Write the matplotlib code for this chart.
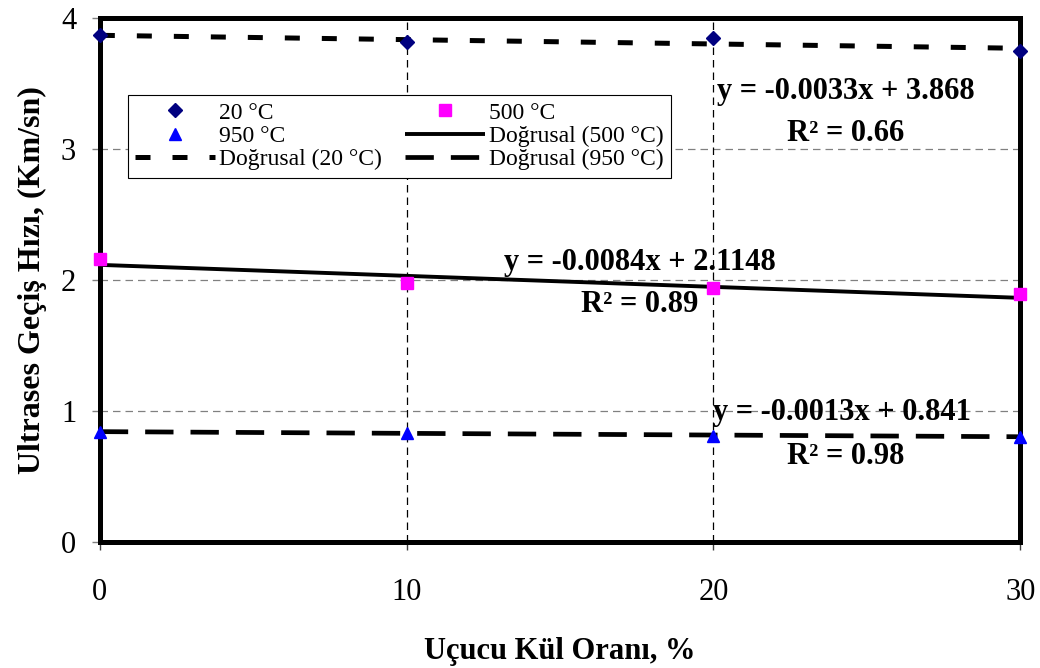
import matplotlib
matplotlib.use("Agg")
import matplotlib.pyplot as plt

plt.rcParams["font.family"] = ["Liberation Serif", "DejaVu Serif"]

# Fly ash ratio (%) and ultrasonic pulse velocity (km/s) per temperature
kul_orani = [0, 10, 20, 30]
hiz_20 = [3.87, 3.82, 3.85, 3.75]
hiz_500 = [2.16, 1.98, 1.94, 1.89]
hiz_950 = [0.84, 0.83, 0.81, 0.80]

# Linear trend coefficients (slope, intercept) and R^2 values
egim = {"20": -0.0033, "500": -0.0084, "950": -0.0013}
kesim = {"20": 3.868, "500": 2.1148, "950": 0.841}
r2 = {"20": "0.66", "500": "0.89", "950": "0.98"}

fig = plt.figure(figsize=(10.4, 6.68), dpi=100)
ax = fig.add_axes([0.096, 0.189, 0.885, 0.784])

x0, x1 = kul_orani[0], kul_orani[-1]

def trend(key):
    return [egim[key] * x0 + kesim[key], egim[key] * x1 + kesim[key]]

# trend lines
t20, = ax.plot([x0, x1], trend("20"), color="black", lw=3.6,
               dashes=(3.0, 4.4), zorder=3)
t500, = ax.plot([x0, x1], trend("500"), color="black", lw=2.8,
                solid_capstyle="butt", zorder=3)
t950, = ax.plot([x0, x1], trend("950"), color="black", lw=3.4,
                dashes=(6.0, 3.6), zorder=3)

# measured points
p20, = ax.plot(kul_orani, hiz_20, ls="none", marker="D", ms=7,
               color="#000080", zorder=4, clip_on=False)
p500, = ax.plot(kul_orani, hiz_500, ls="none", marker="s", ms=8,
                color="#FF00FF", zorder=4, clip_on=False)
p950, = ax.plot(kul_orani, hiz_950, ls="none", marker="^", ms=9,
                color="#0000FF", zorder=4, clip_on=False)

ax.set_xlim(0, 30)
ax.set_ylim(0, 4)
ax.set_xticks([0, 10, 20, 30])
ax.set_yticks([0, 1, 2, 3, 4])

# grid: gray dashes horizontal, black dashes vertical
for yv in [1, 2, 3]:
    ax.axhline(yv, color="#808080", lw=0.9, dashes=(6, 4), zorder=1)
for xv in [10, 20]:
    ax.axvline(xv, color="black", lw=0.9, dashes=(6, 4), zorder=1)

for s in ax.spines.values():
    s.set_linewidth(3.6)
    s.set_color("black")

ax.tick_params(axis="y", direction="out", length=6, width=1,
               color="#808080", labelsize=22, pad=11)
ax.tick_params(axis="x", direction="out", length=6, width=1,
               color="#404040", labelsize=22, pad=20)

ax.set_xlabel("Uçucu Kül Oranı, %", fontsize=22, fontweight="bold",
              labelpad=22)
ax.set_ylabel("Ultrases Geçiş Hızı, (Km/sn)", fontsize=23,
              fontweight="bold", labelpad=10)

# trend equations
kw = dict(fontsize=22, fontweight="bold", ha="center", va="center", zorder=5)
ax.text(24.3, 3.44, f"y = {egim['20']}x + {kesim['20']}", **kw)
ax.text(24.3, 3.12, f"R² = {r2['20']}", **kw)
ax.text(17.6, 2.13, f"y = {egim['500']}x + {kesim['500']}", **kw)
ax.text(17.6, 1.81, f"R² = {r2['500']}", **kw)
ax.text(24.2, 0.985, f"y = {egim['950']}x + {kesim['950']}", **kw)
ax.text(24.3, 0.65, f"R² = {r2['950']}", **kw)

# legend, filled column by column
handles = [p20, p950, t20, p500, t500, t950]
labels = ["20 °C", "950 °C", "Doğrusal (20 °C)",
          "500 °C", "Doğrusal (500 °C)", "Doğrusal (950 °C)"]
leg = ax.legend(handles, labels, ncol=2, loc="upper left",
                bbox_to_anchor=(0.0304, 0.853), fontsize=17,
                frameon=True, fancybox=False, edgecolor="black",
                framealpha=1, handlelength=3.4, handletextpad=0.15,
                columnspacing=1.0, labelspacing=0.08, borderpad=0.3,
                borderaxespad=0)
leg.get_frame().set_linewidth(0.8)
leg.set_zorder(6)

fig.savefig("out.png", dpi=100)
